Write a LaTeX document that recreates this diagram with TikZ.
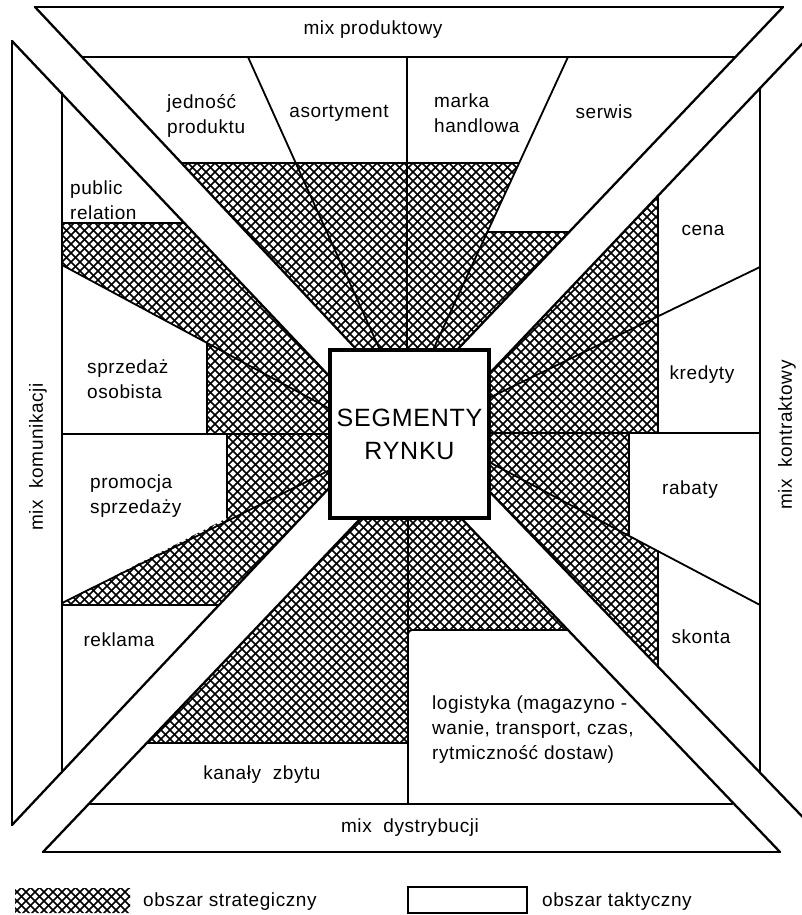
\documentclass[tikz,border=0pt]{standalone}
\usepackage{fontspec}
\setmainfont[LetterSpace=3]{Liberation Sans}
\begin{document}
\begin{tikzpicture}[x=1pt,y=-1pt,
  band/.style={line width=2.3pt, line cap=round, line join=round},
  div/.style={line width=1.8pt, line cap=round},
  hatchline/.style={line width=1.6pt},
  lbl/.style={font=\fontsize{19}{25}\selectfont, inner sep=0pt},
  lblw/.style={lbl, align=left, anchor=west},
  segbox/.style={draw, line width=4pt, fill=white, minimum width=159pt, minimum height=168pt,
     align=center, font=\fontsize{25}{33}\selectfont, inner sep=0pt}
]
\useasboundingbox (0,0) rectangle (801,915);

% ---------- hatched (strategic) areas ----------
\begin{scope}
\clip (181.5,163) -- (519,163) -- (487,232) -- (569,232) -- (457,350) -- (357,350) -- cycle
      (184.6,223) -- (62,223) -- (62,265) -- (207,343) -- (207,434) -- (227,434) -- (227,518)
         -- (62,603) -- (62,605) -- (219,605) -- (330,487) -- (330,377) -- cycle
      (658,196) -- (658,433) -- (629,433) -- (629,535) -- (658,551) -- (658,667)
         -- (489,491) -- (489,374) -- cycle
      (361,518) -- (461,518) -- (568,630) -- (408,630) -- (408,743) -- (147,743) -- cycle
      (15,888) rectangle (130,913);
\foreach \k in {0,...,205} {
  \draw[hatchline] ({\k*9-920},0) -- ++(920,920);
  \draw[hatchline] ({\k*9},0) -- ++(-920,920);
}
\end{scope}

% ---------- outer bands ----------
\draw[band] (35,7) -- (783,7);
\draw[band] (82,57) -- (735,57);
\draw[band] (12,41) -- (12,825);
\draw[band] (62,93) -- (62,772);
\draw[band] (89,804) -- (732,804);
\draw[band] (43,852) -- (780,852);
\draw[band] (760,88) -- (760,772);

% ---------- diagonal gap lines ----------
\draw[band] (35,7) -- (357,350);
\draw[band] (12,41) -- (330,377);
\draw[band] (783,7) -- (457,350);
\draw[band] (820,25) -- (489,374);
\draw[band] (12,825) -- (330,487);
\draw[band] (43,852) -- (361,518);
\draw[band] (780,852) -- (461,518);
\draw[band] (820,835) -- (489,491);

% ---------- top sector ----------
\draw[div] (248,57) -- (380,350);
\draw[div] (407,57) -- (407,350);
\draw[div] (568,57) -- (433,350);
\draw[div] (181.5,163) -- (519,163);
\draw[div] (487,232) -- (569,232);

% ---------- left sector ----------
\draw[div] (62,223) -- (184.6,223);
\draw[div] (62,265) -- (330,409);
\draw[div] (207,343) -- (207,434);
\draw[div] (62,434) -- (330,434);
\draw[div] (227,434) -- (227,518);
\draw[div] (62,603) -- (330,470);
\draw[div] (62,605) -- (219,605);

% ---------- right sector ----------
\draw[div] (658,196) -- (658,433);
\draw[div] (760,267) -- (489,398);
\draw[div] (489,433) -- (760,433);
\draw[div] (629,433) -- (629,535);
\draw[div] (489,462) -- (760,605);
\draw[div] (658,551) -- (658,667);

% ---------- bottom sector ----------
\draw[div] (408,518) -- (408,804);
\draw[div] (147,743) -- (408,743);
\draw[div, rounded corners=4pt] (408,650) -- (408,630) -- (568,630);

% ---------- centre ----------
\node[segbox] (seg) at (409.5,434) {SEGMENTY\\RYNKU};

% ---------- labels ----------
\node[lbl] (mp) at (373,30) {mix produktowy};
\node[lbl, rotate=90] (mk) at (38,457) {mix\ \ komunikacji};
\node[lbl, rotate=90] (mc) at (787,435) {mix\ \ kontraktowy};
\node[lbl] (md) at (410,828) {mix\ \ dystrybucji};

\node[lblw] (t1) at (167,116) {jedność\\produktu};
\node[lbl] (t2) at (339,113) {asortyment};
\node[lblw] (t3) at (434,113) {marka\\handlowa};
\node[lbl] (t4) at (604,112) {serwis};
\node[lblw] (t5) at (70,200) {public\\relation};
\node[lblw] (t6) at (87,379) {sprzedaż\\osobista};
\node[lblw] (t7) at (90,496) {promocja\\sprzedaży};
\node[lbl] (t8) at (119,640) {reklama};
\node[lbl] (t9) at (262,775) {kanały\ \ zbytu};
\node[lblw] (t10) at (432,730) {logistyka (magazyno -\\wanie, transport, czas,\\rytmiczność dostaw)};
\node[lbl] (t11) at (703,230) {cena};
\node[lbl] (t12) at (702,375) {kredyty};
\node[lbl] (t13) at (690,490) {rabaty};
\node[lbl] (t14) at (701,637) {skonta};

% ---------- legend ----------
\node[draw, line width=1.8pt, minimum width=119pt, minimum height=26pt, inner sep=0pt] (leg2) at (467.5,900) {};
\node[lblw] (l1) at (143,902) {obszar strategiczny};
\node[lblw] (l2) at (542,902) {obszar taktyczny};
\end{tikzpicture}
\end{document}
